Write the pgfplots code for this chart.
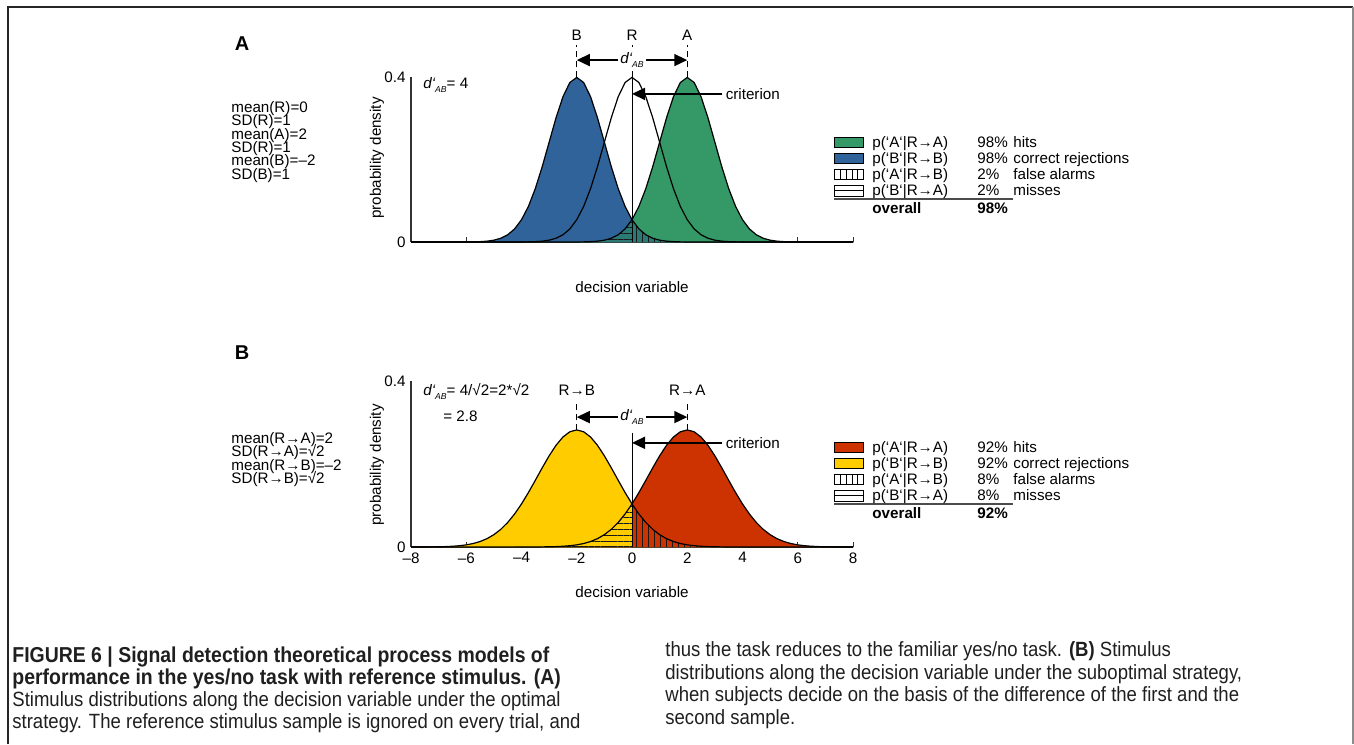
\documentclass[border=0pt]{standalone}
\usepackage{pgfplots}
\pgfplotsset{compat=1.18}
\usepackage{pgfplotstable}
\usetikzlibrary{arrows.meta,patterns.meta}
\usepackage{fontspec}
\setmainfont{Liberation Sans}
\newfontfamily\capfont[FakeStretch=0.9]{Liberation Sans}

\definecolor{cgreen}{RGB}{52,153,102}
\definecolor{cblue}{RGB}{47,99,154}
\definecolor{cteal}{RGB}{43,122,118}
\definecolor{cred}{RGB}{204,51,0}
\definecolor{cyellow}{RGB}{255,204,0}

\pgfplotstableread{
x B R A
-8.00 0 0 0
-7.00 0 0 0
-6.75 0 0 0
-6.50 0.00002 0 0
-6.25 0.00005 0 0
-6.00 0.00013 0 0
-5.75 0.00035 0 0
-5.50 0.00087 0 0
-5.25 0.00203 0 0
-5.00 0.00443 0 0
-4.75 0.00909 0 0
-4.50 0.01753 0.00002 0
-4.25 0.03174 0.00005 0
-4.00 0.05399 0.00013 0
-3.75 0.08628 0.00035 0
-3.50 0.12952 0.00087 0
-3.25 0.18265 0.00203 0
-3.00 0.24197 0.00443 0
-2.75 0.30114 0.00909 0
-2.50 0.35207 0.01753 0.00002
-2.25 0.38667 0.03174 0.00005
-2.00 0.39894 0.05399 0.00013
-1.75 0.38667 0.08628 0.00035
-1.50 0.35207 0.12952 0.00087
-1.25 0.30114 0.18265 0.00203
-1.00 0.24197 0.24197 0.00443
-0.75 0.18265 0.30114 0.00909
-0.50 0.12952 0.35207 0.01753
-0.25 0.08628 0.38667 0.03174
0.00 0.05399 0.39894 0.05399
0.25 0.03174 0.38667 0.08628
0.50 0.01753 0.35207 0.12952
0.75 0.00909 0.30114 0.18265
1.00 0.00443 0.24197 0.24197
1.25 0.00203 0.18265 0.30114
1.50 0.00087 0.12952 0.35207
1.75 0.00035 0.08628 0.38667
2.00 0.00013 0.05399 0.39894
2.25 0.00005 0.03174 0.38667
2.50 0.00002 0.01753 0.35207
2.75 0 0.00909 0.30114
3.00 0 0.00443 0.24197
3.25 0 0.00203 0.18265
3.50 0 0.00087 0.12952
3.75 0 0.00035 0.08628
4.00 0 0.00013 0.05399
4.25 0 0.00005 0.03174
4.50 0 0.00002 0.01753
4.75 0 0 0.00909
5.00 0 0 0.00443
5.25 0 0 0.00203
5.50 0 0 0.00087
5.75 0 0 0.00035
6.00 0 0 0.00013
6.25 0 0 0.00005
6.50 0 0 0.00002
6.75 0 0 0
7.00 0 0 0
8.00 0 0 0
}\tabA

\pgfplotstableread{
x Y D
-8.00 0.00003 0
-7.75 0.00007 0
-7.50 0.00015 0
-7.25 0.00029 0
-7.00 0.00054 0
-6.75 0.00100 0
-6.50 0.00179 0
-6.25 0.00309 0
-6.00 0.00517 0
-5.75 0.00839 0
-5.50 0.01319 0
-5.25 0.02011 0
-5.00 0.02973 0
-4.75 0.04259 0
-4.50 0.05913 0.00001
-4.25 0.07957 0.00002
-4.00 0.10378 0.00003
-3.75 0.13118 0.00007
-3.50 0.16073 0.00015
-3.25 0.19087 0.00029
-3.00 0.21969 0.00054
-2.75 0.24509 0.00100
-2.50 0.26500 0.00179
-2.25 0.27772 0.00309
-2.00 0.28209 0.00517
-1.75 0.27772 0.00839
-1.50 0.26500 0.01319
-1.25 0.24509 0.02011
-1.00 0.21969 0.02973
-0.75 0.19087 0.04259
-0.50 0.16073 0.05913
-0.25 0.13118 0.07957
0.00 0.10378 0.10378
0.25 0.07957 0.13118
0.50 0.05913 0.16073
0.75 0.04259 0.19087
1.00 0.02973 0.21969
1.25 0.02011 0.24509
1.50 0.01319 0.26500
1.75 0.00839 0.27772
2.00 0.00517 0.28209
2.25 0.00309 0.27772
2.50 0.00179 0.26500
2.75 0.00100 0.24509
3.00 0.00054 0.21969
3.25 0.00029 0.19087
3.50 0.00015 0.16073
3.75 0.00007 0.13118
4.00 0.00003 0.10378
4.25 0.00002 0.07957
4.50 0.00001 0.05913
4.75 0 0.04259
5.00 0 0.02973
5.25 0 0.02011
5.50 0 0.01319
5.75 0 0.00839
6.00 0 0.00517
6.25 0 0.00309
6.50 0 0.00179
6.75 0 0.00100
7.00 0 0.00054
7.25 0 0.00029
7.50 0 0.00015
7.75 0 0.00007
8.00 0 0.00003
}\tabB

\newcommand\dab{{\itshape d‘}\raisebox{-0.45ex}{\fontsize{4.3}{5}\selectfont\itshape AB}}
\newcommand\txt{\fontsize{7.6}{9}\selectfont}
\tikzset{
  arr/.style={line width=0.8pt,-{Triangle[length=6.5pt,width=6pt]}},
  darr/.style={line width=0.8pt,{Triangle[length=6.5pt,width=6pt]}-{Triangle[length=6.5pt,width=6pt]}},
  hl/.style={draw=none,pattern={Lines[angle=0,distance=2.9pt,line width=0.35pt]},pattern color=black!90},
  vl/.style={draw=none,pattern={Lines[angle=90,distance=3pt,line width=0.35pt]},pattern color=black!90},
}
\pgfplotsset{sdt/.style={
  scale only axis, width=221pt,
  xmin=-8, xmax=8, ymin=0, ymax=0.4,
  axis x line*=bottom, axis y line*=left,
  axis line style={line width=0.6pt, black!80},
  clip=false,
  xtick={-8,-6,...,8}, tick align=inside, major tick length=2.5pt,
  xtick style={line width=0.5pt, black!80},
  ytick={0,0.4}, yticklabels={0,0.4}, ytick style={draw=none},
  tick label style={font=\txt},
  yticklabel style={inner sep=2.5pt},
  xticklabel style={inner sep=2.5pt},
}}

\begin{document}
\begin{tikzpicture}[font=\txt]
\useasboundingbox (0,0) rectangle (677pt,-372pt);
% frame
\draw[line width=1pt, black!85] (4pt,-372pt) -- (4pt,-3.5pt) -- (676.5pt,-3.5pt);
\draw[line width=0.8pt, black!45] (676.5pt,-3.5pt) -- (676.5pt,-372pt);

% ---------------- Panel A ----------------
\begin{axis}[sdt, height=82.5pt, at={(205.5pt,-121pt)}, anchor=south west,
  xticklabels={}]
\addplot[fill=cblue, draw=none] table[x=x,y=B]{\tabA} \closedcycle;
\addplot[fill=cgreen, draw=none] table[x=x,y=A]{\tabA} \closedcycle;
\addplot[fill=cteal, draw=none, restrict x to domain=-8:0] table[x=x,y=A]{\tabA} \closedcycle;
\addplot[hl, restrict x to domain=-8:0] table[x=x,y=A]{\tabA} \closedcycle;
\addplot[fill=cteal, draw=none, restrict x to domain=0:8] table[x=x,y=B]{\tabA} \closedcycle;
\addplot[vl, restrict x to domain=0:8] table[x=x,y=B]{\tabA} \closedcycle;
\addplot[black, line width=0.6pt] table[x=x,y=B]{\tabA};
\addplot[black, line width=0.6pt] table[x=x,y=A]{\tabA};
\addplot[black, line width=0.6pt] table[x=x,y=R]{\tabA};
\draw[line width=0.5pt] (axis cs:0,0) -- (axis cs:0,0.399);
\draw[densely dashed, line width=0.5pt] (axis cs:-2,0.399) -- (axis cs:-2,0.478);
\draw[densely dashed, line width=0.5pt] (axis cs:0,0.399) -- (axis cs:0,0.478);
\draw[densely dashed, line width=0.5pt] (axis cs:2,0.399) -- (axis cs:2,0.478);
\node at (axis cs:-2,0.50) {B};
\node at (axis cs:0,0.50) {R};
\node at (axis cs:2,0.50) {A};
\draw[darr] (axis cs:-2,0.441) -- (axis cs:2,0.441);
\node[fill=white, inner sep=1pt] at (axis cs:0,0.441) {\dab};
\draw[arr] (axis cs:3.27,0.359) -- (axis cs:0,0.359);
\node[anchor=west, inner sep=0pt] at (axis cs:3.38,0.359) {criterion};
\end{axis}

% ---------------- Panel B ----------------
\begin{axis}[sdt, height=83pt, at={(205.5pt,-273.5pt)}, anchor=south west,
  xticklabels={–8,–6,–4,–2,0,2,4,6,8}]
\addplot[fill=cyellow, draw=none] table[x=x,y=Y]{\tabB} \closedcycle;
\addplot[fill=cred, draw=none] table[x=x,y=D]{\tabB} \closedcycle;
\addplot[fill=cyellow, draw=none, restrict x to domain=-8:0] table[x=x,y=D]{\tabB} \closedcycle;
\addplot[hl, restrict x to domain=-8:0] table[x=x,y=D]{\tabB} \closedcycle;
\addplot[vl, restrict x to domain=0:8] table[x=x,y=Y]{\tabB} \closedcycle;
\addplot[black, line width=0.6pt] table[x=x,y=Y]{\tabB};
\addplot[black, line width=0.6pt] table[x=x,y=D]{\tabB};
\draw[line width=0.5pt] (axis cs:0,0) -- (axis cs:0,0.275);
\draw[densely dashed, line width=0.5pt] (axis cs:-2,0.282) -- (axis cs:-2,0.354);
\draw[densely dashed, line width=0.5pt] (axis cs:2,0.282) -- (axis cs:2,0.354);
\node at (axis cs:-2,0.378) {R→B};
\node at (axis cs:2,0.378) {R→A};
\draw[darr] (axis cs:-2,0.313) -- (axis cs:2,0.313);
\node[fill=white, inner sep=1pt] at (axis cs:0,0.313) {\dab};
\draw[arr] (axis cs:3.27,0.251) -- (axis cs:0,0.251);
\node[anchor=west, inner sep=0pt] at (axis cs:3.38,0.251) {criterion};
\end{axis}

% ---------------- text in pixel coordinates ----------------
\begin{scope}[x=0.5pt,y=-0.5pt]
\node[font=\fontsize{10}{12}\selectfont\bfseries] at (242,44) {A};
\node[font=\fontsize{10}{12}\selectfont\bfseries] at (242,353) {B};

\foreach \t [count=\i from 0] in {mean(R)=0,SD(R)=1,mean(A)=2,SD(R)=1,mean(B)=–2,SD(B)=1}
  \node[anchor=base west, inner sep=0pt] at (231,112.5+13.3*\i) {\t};
\foreach \t [count=\i from 0] in {mean(R→A)=2,SD(R→A)=√2,mean(R→B)=–2,SD(R→B)=√2}
  \node[anchor=base west, inner sep=0pt] at (231,443.5+13.4*\i) {\t};

\node[rotate=90] at (377,158) {probability density};
\node[rotate=90] at (377,465) {probability density};
\node at (632,287) {decision variable};
\node at (632,592) {decision variable};

\node[anchor=base west, inner sep=0pt] at (423,88.5) {\dab= 4};
\node[anchor=base west, inner sep=0pt] at (423,395.5) {\dab= 4/√2=2*√2};
\node[anchor=base west, inner sep=0pt] at (443,421.5) {= 2.8};

% legend A
\draw[fill=cgreen, line width=0.5pt] (834,137) rectangle (863,147);
\draw[fill=cblue, line width=0.5pt] (834,153) rectangle (863,163);
\draw[line width=0.5pt] (834,169) rectangle (863,179);
\foreach \xx in {840,846,852,857} \draw[line width=0.5pt] (\xx,169) -- (\xx,179);
\draw[line width=0.5pt] (834,185) rectangle (863,196);
\draw[line width=0.5pt] (834,190.5) -- (863,190.5);
\draw[line width=1pt, black!70] (834,199) -- (1013,199);
\foreach \a/\b/\c [count=\i from 0] in {p(‘A‘|R→A)/98\%/hits,p(‘B‘|R→B)/98\%/correct rejections,p(‘A‘|R→B)/2\%/false alarms,p(‘B‘|R→A)/2\%/misses}{
  \node[anchor=base west, inner sep=0pt] at (872,147.5+16*\i) {\a};
  \node[anchor=base west, inner sep=0pt] at (977,147.5+16*\i) {\b};
  \node[anchor=base west, inner sep=0pt] at (1013,147.5+16*\i) {\c};
}
\node[anchor=base west, inner sep=0pt, font=\txt\bfseries] at (872,213.5) {overall};
\node[anchor=base west, inner sep=0pt, font=\txt\bfseries] at (977,213.5) {98\%};

% legend B
\draw[fill=cred, line width=0.5pt] (834,442) rectangle (863,452);
\draw[fill=cyellow, line width=0.5pt] (834,458) rectangle (863,468);
\draw[line width=0.5pt] (834,474) rectangle (863,484);
\foreach \xx in {840,846,852,857} \draw[line width=0.5pt] (\xx,474) -- (\xx,484);
\draw[line width=0.5pt] (834,490) rectangle (863,501);
\draw[line width=0.5pt] (834,495.5) -- (863,495.5);
\draw[line width=1pt, black!70] (834,504) -- (1013,504);
\foreach \a/\b/\c [count=\i from 0] in {p(‘A‘|R→A)/92\%/hits,p(‘B‘|R→B)/92\%/correct rejections,p(‘A‘|R→B)/8\%/false alarms,p(‘B‘|R→A)/8\%/misses}{
  \node[anchor=base west, inner sep=0pt] at (872,452.5+16*\i) {\a};
  \node[anchor=base west, inner sep=0pt] at (977,452.5+16*\i) {\b};
  \node[anchor=base west, inner sep=0pt] at (1013,452.5+16*\i) {\c};
}
\node[anchor=base west, inner sep=0pt, font=\txt\bfseries] at (872,518.5) {overall};
\node[anchor=base west, inner sep=0pt, font=\txt\bfseries] at (977,518.5) {92\%};

% caption
\begin{scope}[every node/.style={anchor=base west, inner sep=0pt, font=\capfont\fontsize{10.3}{12}\selectfont, text=black!88}]
\node[font=\capfont\fontsize{10.8}{12}\selectfont\bfseries] at (12,662) {FIGURE 6 | Signal detection theoretical process models of};
\node[font=\capfont\fontsize{10.8}{12}\selectfont\bfseries] at (12,684) {performance in the yes/no task with reference stimulus. (A)};
\node at (12,706) {Stimulus distributions along the decision variable under the optimal};
\node at (12,728) {strategy. The reference stimulus sample is ignored on every trial, and};
\node at (665,656) {thus the task reduces to the familiar yes/no task. \textbf{(B)} Stimulus};
\node at (665,679) {distributions along the decision variable under the suboptimal strategy,};
\node at (665,701) {when subjects decide on the basis of the difference of the first and the};
\node at (665,724) {second sample.};
\end{scope}
\end{scope}
\end{tikzpicture}
\end{document}
